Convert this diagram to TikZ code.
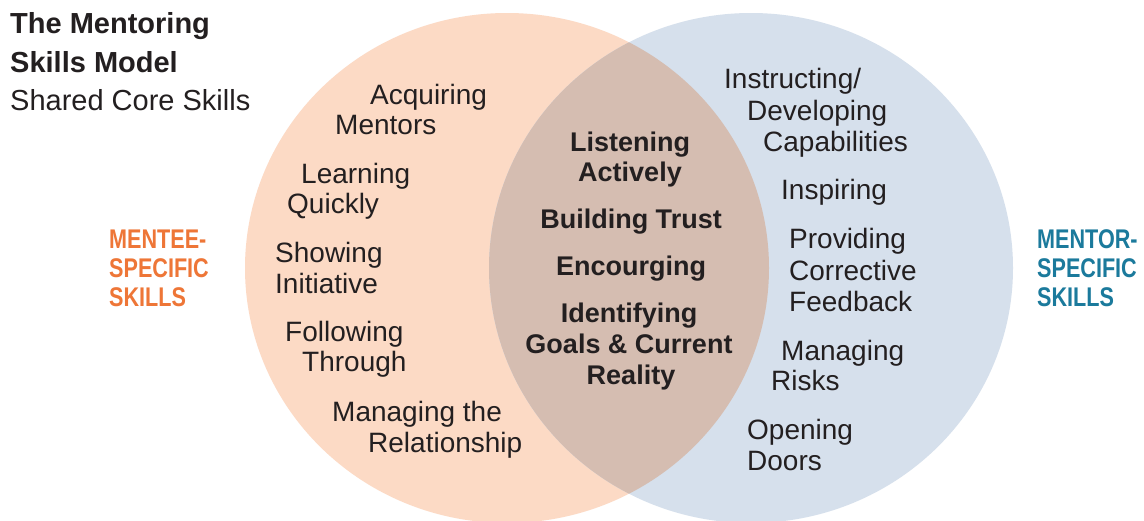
\documentclass[tikz,border=0pt]{standalone}
\usepackage{fontspec}
\setmainfont{Liberation Sans}
\newfontfamily\labelfont[FakeStretch=0.8]{Liberation Sans}
\definecolor{peach}{HTML}{FCDAC5}
\definecolor{bluish}{HTML}{D6E0EC}
\definecolor{lens}{HTML}{D5BDB1}
\definecolor{ink}{HTML}{231F20}
\definecolor{menteeor}{HTML}{EE7637}
\definecolor{mentorbl}{HTML}{1B7A9C}
\begin{document}
\begin{tikzpicture}[x=1pt,y=-1pt,
  skill/.style={font=\fontsize{28}{31}\selectfont, text=ink, inner sep=0pt, anchor=base west},
  core/.style={font=\fontsize{27}{31}\selectfont\bfseries, text=ink, inner sep=0pt, anchor=base},
  titlebold/.style={font=\fontsize{29}{31}\selectfont\bfseries, text=ink, inner sep=0pt, anchor=base west},
  titlereg/.style={font=\fontsize{29}{31}\selectfont, text=ink, inner sep=0pt, anchor=base west},
  sidelabel/.style={font=\labelfont\fontsize{27}{29}\selectfont\bfseries, inner sep=0pt, anchor=base west}]
\clip (0,0) rectangle (1144,520);
\fill[white] (0,0) rectangle (1144,520);
% circles
\fill[peach] (507,268) ellipse [x radius=262pt, y radius=255pt];
\fill[bluish] (751,268) ellipse [x radius=262pt, y radius=255pt];
\begin{scope}
  \clip (507,268) ellipse [x radius=262pt, y radius=255pt];
  \fill[lens] (751,268) ellipse [x radius=262pt, y radius=255pt];
\end{scope}
% title
\node[titlebold] (t1) at (10,33) {The Mentoring};
\node[titlebold] (t2) at (10,72) {Skills Model};
\node[titlereg] (t3) at (10,110) {Shared Core Skills};
% side labels
\node[sidelabel, text=menteeor] (le1) at (109,248) {MENTEE-};
\node[sidelabel, text=menteeor] (le2) at (109,277) {SPECIFIC};
\node[sidelabel, text=menteeor] (le3) at (109,306) {SKILLS};
\node[sidelabel, text=mentorbl] (lo1) at (1037,248) {MENTOR-};
\node[sidelabel, text=mentorbl] (lo2) at (1037,277) {SPECIFIC};
\node[sidelabel, text=mentorbl] (lo3) at (1037,306) {SKILLS};
% mentee skills
\node[skill] (a1) at (370,104) {Acquiring};
\node[skill] (a2) at (335,134) {Mentors};
\node[skill] (b1) at (301,183) {Learning};
\node[skill] (b2) at (287,213) {Quickly};
\node[skill] (c1) at (275,262) {Showing};
\node[skill] (c2) at (275,293) {Initiative};
\node[skill] (d1) at (285,341) {Following};
\node[skill] (d2) at (302,371) {Through};
\node[skill] (e1) at (332,421) {Managing the};
\node[skill] (e2) at (368,452) {Relationship};
% core skills
\node[core] (k1) at (630,151) {Listening};
\node[core] (k2) at (630,181) {Actively};
\node[core] (k3) at (631,228) {Building Trust};
\node[core] (k4) at (631,275) {Encourging};
\node[core] (k5) at (629,322) {Identifying};
\node[core] (k6) at (629,353) {Goals \& Current};
\node[core] (k7) at (631,384) {Reality};
% mentor skills
\node[skill] (m1) at (724,88) {Instructing/};
\node[skill] (m2) at (747,120) {Developing};
\node[skill] (m3) at (763,151) {Capabilities};
\node[skill] (n1) at (781,199) {Inspiring};
\node[skill] (p1) at (789,248) {Providing};
\node[skill] (p2) at (789,280) {Corrective};
\node[skill] (p3) at (789,311) {Feedback};
\node[skill] (r1) at (781,360) {Managing};
\node[skill] (r2) at (771,390) {Risks};
\node[skill] (o1) at (747,439) {Opening};
\node[skill] (o2) at (747,470) {Doors};
\end{tikzpicture}
\end{document}
